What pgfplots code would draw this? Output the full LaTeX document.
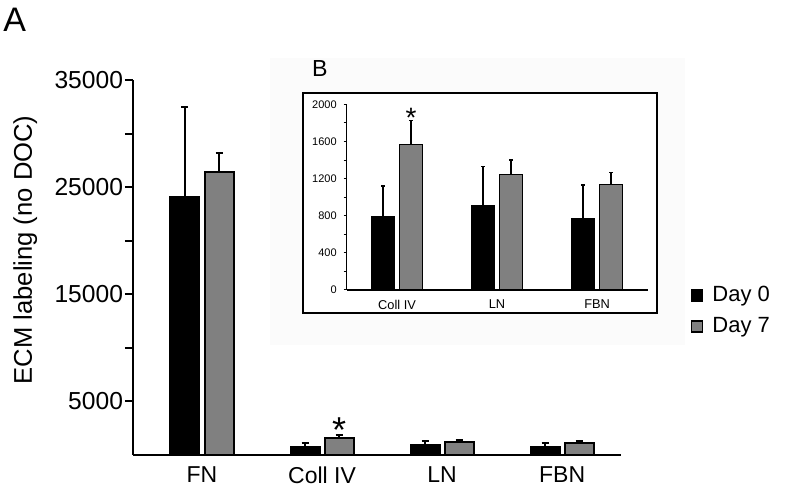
\documentclass[border=0pt]{standalone}
\usepackage{fontspec}
\setmainfont{Liberation Sans}
\usepackage{pgfplots}
\pgfplotsset{compat=1.18}

\definecolor{barGray}{HTML}{808080}

\pgfplotsset{
  /pgf/number format/assume math mode=true,
  sqbar/.style={ybar, bar shift=0pt,
    legend image code/.code={\draw[##1, line width=0.8bp] (0bp,-2.75bp) rectangle (5.5bp,2.75bp);}},
}

\begin{document}
\begin{tikzpicture}
\useasboundingbox (-66.5bp,-18bp) rectangle (333.5bp,227.5bp);

% main chart (A)
\begin{axis}[
  at={(0,0)}, anchor=south west,
  scale only axis, width=244bp, height=187.5bp,
  xmin=-0.575, xmax=3.49, ymin=0, ymax=35000,
  axis x line=bottom, axis y line=left,
  axis line style={-, line width=1.2bp},
  xtick={0,1,2,3}, xticklabels={FN,Coll IV,LN,FBN},
  x tick style={draw=none},
  ytick={5000,15000,25000,35000},
  minor ytick={10000,20000,30000},
  y tick style={line width=1bp, black},
  tick align=outside, major tick length=4bp, minor tick length=4bp,
  scaled y ticks=false,
  yticklabel style={/pgf/number format/1000 sep={}, font=\fontsize{12.3bp}{13bp}\selectfont, xshift=2.5bp},
  xticklabel style={font=\fontsize{11.5bp}{12bp}\selectfont, yshift=1.5bp},
  ylabel={ECM labeling (no DOC)},
  ylabel style={at={(axis description cs:-0.221,0.547)}, anchor=center, font=\fontsize{12.8bp}{13bp}\selectfont},
  legend style={at={(axis description cs:1.13,0.384)}, anchor=west, draw=none, fill=none,
    font=\fontsize{11bp}{12bp}\selectfont, row sep=2.5bp, cells={anchor=west},
    /tikz/every even column/.append style={column sep=0pt}},
  legend cell align=left,
]
\addplot[sqbar, bar width=14.5bp, fill=black, draw=black, line width=1bp,
  error bars/.cd, y dir=plus, y explicit, error mark=-,
  error bar style={line width=1bp, black},
  error mark options={rotate=90, line width=1bp, mark size=1.75bp, black}]
  coordinates {(-0.142,24100) +- (0,8350) (0.858,790) +- (0,330) (1.858,915) +- (0,415) (2.858,765) +- (0,370)};
\addlegendentry{\hspace{2.5bp}Day 0}
\addplot[sqbar, bar width=14.5bp, fill=barGray, draw=black, line width=1bp,
  error bars/.cd, y dir=plus, y explicit, error mark=-,
  error bar style={line width=1bp, black},
  error mark options={rotate=90, line width=1bp, mark size=1.75bp, black}]
  coordinates {(0.142,26440) +- (0,1760) (1.142,1570) +- (0,260) (2.142,1250) +- (0,150) (3.142,1135) +- (0,135)};
\addlegendentry{\hspace{2.5bp}Day 7}
\node[anchor=base, inner sep=0, font=\fontsize{18bp}{18bp}\selectfont] at (axis cs:1.142,1830) [yshift=-3.4bp] {*};
\end{axis}

% inset panel background and frame
\fill[gray!3] (68.5bp,55bp) rectangle (276bp,198.5bp);
\draw[line width=1bp, fill=white] (85bp,71bp) rectangle (262bp,181.15bp);
\node[anchor=north west, inner sep=0, font=\fontsize{11.6bp}{12bp}\selectfont] at (89.35bp,197.5bp) {B};
\node[anchor=north west, inner sep=0, font=\fontsize{17bp}{17bp}\selectfont] at (-65bp,223.5bp) {A};

% inset chart (B)
\begin{axis}[
  at={(106.85bp,82.5bp)}, anchor=south west,
  scale only axis, width=150.7bp, height=92.85bp,
  xmin=-0.503, xmax=2.51, ymin=0, ymax=2000,
  axis x line=bottom, axis y line=left,
  axis line style={-, line width=0.6bp},
  xtick={0,1,2}, xticklabels={Coll IV,LN,FBN},
  x tick style={draw=none},
  ytick={0,400,...,2000},
  minor ytick={200,600,...,1800},
  y tick style={line width=0.5bp, black},
  tick align=outside, major tick length=1.5bp, minor tick length=1.5bp,
  scaled y ticks=false,
  yticklabel style={/pgf/number format/1000 sep={}, font=\fontsize{5.5bp}{6bp}\selectfont},
  xticklabel style={font=\fontsize{6.4bp}{7bp}\selectfont},
]
\addplot[ybar, bar shift=0pt, bar width=11.3bp, fill=black, draw=black, line width=0.5bp,
  error bars/.cd, y dir=plus, y explicit, error mark=-,
  error bar style={line width=0.6bp, black},
  error mark options={rotate=90, line width=0.6bp, mark size=1bp, black}]
  coordinates {(-0.14,790) +- (0,330) (0.86,915) +- (0,413) (1.86,765) +- (0,366)};
\addplot[ybar, bar shift=0pt, bar width=11.3bp, fill=barGray, draw=black, line width=0.5bp,
  error bars/.cd, y dir=plus, y explicit, error mark=-,
  error bar style={line width=0.6bp, black},
  error mark options={rotate=90, line width=0.6bp, mark size=1bp, black}]
  coordinates {(0.14,1562) +- (0,265) (1.14,1249) +- (0,151) (2.14,1134) +- (0,133)};
\node[anchor=base, inner sep=0, font=\fontsize{14bp}{14bp}\selectfont] at (axis cs:0.14,1827) [yshift=-3.7bp] {*};
\end{axis}
\end{tikzpicture}
\end{document}
